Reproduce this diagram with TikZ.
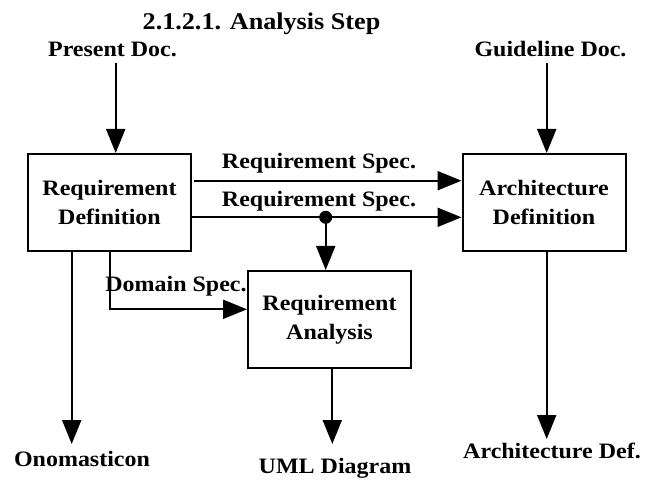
\documentclass[tikz,border=0pt]{standalone}
\usepackage{fontspec}
\setmainfont{Liberation Serif}[FakeStretch=1.09]
\usetikzlibrary{arrows.meta}
\begin{document}
\begin{tikzpicture}[x=1pt,y=-1pt,
  every node/.style={font=\fontsize{22}{29.5}\selectfont\bfseries},
  procbox/.style={draw,line width=2pt,minimum width=163pt,minimum height=97pt,
    align=center,inner sep=0pt},
  lbl/.style={anchor=base,inner sep=0pt},
  flow/.style={line width=2pt,-{Triangle[length=24pt,width=19pt]}},
  plain/.style={line width=2pt}]
\useasboundingbox (0,0) rectangle (654,481);

% title
\node[lbl,font=\fontsize{24}{28}\selectfont\bfseries] (title) at (261.5,30) {2.1.2.1. Analysis Step};

% process boxes
\node[procbox] (reqdef)  at (109.5,202.5) {Requirement\\Definition};
\node[procbox] (archdef) at (544,202.5)   {Architecture\\Definition};
\node[procbox] (reqana)  at (329.5,319.5) {Requirement\\Analysis};

% inputs and outputs
\node[lbl] (present)   at (112.5,57) {Present Doc.};
\node[lbl] (guide)     at (550.5,57) {Guideline Doc.};
\node[lbl] (onom)      at (82,466)   {Onomasticon};
\node[lbl] (uml)       at (335,473)  {UML Diagram};
\node[lbl] (archout)   at (552,458)  {Architecture Def.};

% flow labels
\node[lbl] (spec1)  at (319,168.3) {Requirement Spec.};
\node[lbl] (spec2)  at (319,206.7) {Requirement Spec.};
\node[lbl] (domain) at (176,291.7) {Domain Spec.};

% connector end points
\coordinate (pin)   at (115.7,63);
\coordinate (gin)   at (546.7,63);
\coordinate (s1)    at (194,180.7);
\coordinate (s2)    at (191,217.3);
\coordinate (dfrom) at (110,251);
\coordinate (dbend) at (110,309.3);
\coordinate (ofrom) at (71.7,251);
\coordinate (oend)  at (71.7,444);
\coordinate (ufrom) at (332.3,368);
\coordinate (uend)  at (332.3,444);
\coordinate (afrom) at (546.7,251);
\coordinate (aend)  at (546.7,439);

% branch point
\node[circle,fill,inner sep=0pt,minimum size=13pt] (dot) at (325.7,217.3) {};

% connectors
\draw[flow] (pin) -- (pin |- reqdef.north);
\draw[flow] (gin) -- (gin |- archdef.north);
\draw[flow] (s1) -- (s1 -| archdef.west);
\draw[flow] (s2) -- (s2 -| archdef.west);
\draw[flow] (dot.center) -- (dot.center |- reqana.north);
\draw[flow] (dfrom) -- (dbend) -- (dbend -| reqana.west);
\draw[flow] (ofrom) -- (oend);
\draw[flow] (ufrom) -- (uend);
\draw[flow] (afrom) -- (aend);
\end{tikzpicture}
\end{document}
